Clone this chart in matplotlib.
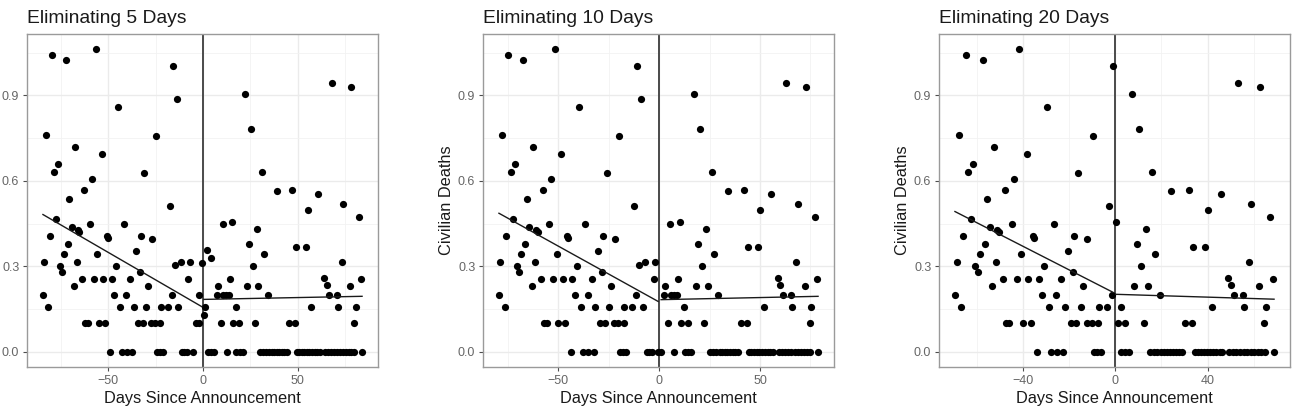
import numpy as np
import matplotlib
matplotlib.use("Agg")
import matplotlib.pyplot as plt
from matplotlib.ticker import FixedLocator

plt.rcParams['font.family'] = ['Liberation Sans', 'DejaVu Sans']

days = [
    -84.4, -83.7, -82.7, -81.6, -80.7, -79.7, -78.6, -77.6, -76.5, -75.6,
    -74.4, -73.5, -72.4, -71.4, -70.5, -69.3, -68.2, -67.3, -66.6, -66.0,
    -65.2, -63.8, -62.7, -62.2, -60.8, -59.8, -58.7, -57.6, -56.7, -55.7,
    -54.9, -53.4, -52.6, -51.6, -50.8, -50.0, -48.8, -48.1, -46.9, -45.9,
    -44.7, -43.8, -42.8, -41.7, -40.5, -40.2, -38.4, -37.5, -36.6, -35.4,
    -34.2, -33.4, -32.8, -31.9, -31.0, -30.0, -28.8, -27.3, -27.0, -25.2,
    -24.7, -24.3, -22.6, -22.2, -22.8, -21.2, -18.6, -17.6, -16.4, -16.1,
    -14.9, -14.0, -13.0, -11.8, -11.2, -9.9, -8.6, -7.7, -6.8, -5.5,
    -3.6, -2.4, -1.9, -0.7,
    0.4, 1.1, 2.2, 2.5, 4.0, 4.2, 6.0, 7.2, 8.1, 9.3,
    10.4, 10.7, 12.3, 12.5, 13.9, 14.2, 15.3, 16.0, 17.4, 17.6,
    19.1, 19.3, 21.0, 22.1, 23.2, 24.4, 25.1, 26.1, 27.4, 28.4,
    29.1, 30.0, 31.1, 31.6, 32.1, 33.2, 34.4, 35.0, 36.3, 37.6,
    38.8, 39.1, 40.1, 41.4, 42.7, 44.0, 45.4, 47.0, 48.4, 48.9,
    49.5, 50.8, 52.1, 53.4, 54.1, 54.7, 55.1, 56.0, 56.8, 57.4,
    58.8, 60.2, 60.7, 61.4, 63.9, 64.5, 65.1, 66.0, 66.5, 67.5,
    68.1, 69.0, 70.4, 70.6, 70.9, 72.2, 73.0, 73.8, 73.7, 75.2,
    76.7, 77.4, 77.9, 78.2, 79.6, 79.8, 80.5, 82.1, 83.2, 83.8,
]
deaths = [
    0.200, 0.315, 0.760, 0.158, 0.405, 1.040, 0.630, 0.467, 0.660, 0.300,
    0.280, 0.343, 1.025, 0.378, 0.536, 0.437, 0.232, 0.717, 0.315, 0.428,
    0.421, 0.257, 0.569, 0.102, 0.102, 0.449, 0.608, 0.257, 1.062, 0.344,
    0.102, 0.693, 0.257, 0.102, 0.407, 0.398, 0.000, 0.257, 0.200, 0.300,
    0.858, 0.158, 0.000, 0.449, 0.200, 0.000, 0.257, 0.000, 0.158, 0.355,
    0.102, 0.280, 0.405, 0.102, 0.628, 0.158, 0.232, 0.102, 0.396, 0.102,
    0.757, 0.000, 0.102, 0.158, 0.000, 0.000, 0.158, 0.511, 0.200, 1.004,
    0.305, 0.888, 0.158, 0.317, 0.000, 0.000, 0.000, 0.257, 0.317, 0.000,
    0.102, 0.102, 0.200, 0.312,
    0.130, 0.158, 0.357, 0.000, 0.331, 0.000, 0.000, 0.201, 0.232, 0.102,
    0.449, 0.201, 0.201, 0.000, 0.201, 0.257, 0.455, 0.102, 0.158, 0.000,
    0.102, 0.000, 0.000, 0.905, 0.232, 0.379, 0.782, 0.300, 0.102, 0.430,
    0.232, 0.000, 0.630, 0.000, 0.344, 0.000, 0.201, 0.000, 0.000, 0.000,
    0.000, 0.566, 0.000, 0.000, 0.000, 0.000, 0.102, 0.569, 0.102, 0.368,
    0.000, 0.000, 0.000, 0.000, 0.368, 0.000, 0.497, 0.000, 0.158, 0.000,
    0.000, 0.000, 0.554, 0.000, 0.260, 0.000, 0.233, 0.000, 0.201, 0.000,
    0.944, 0.000, 0.201, 0.000, 0.158, 0.000, 0.316, 0.518, 0.000, 0.000,
    0.000, 0.232, 0.930, 0.000, 0.102, 0.000, 0.158, 0.472, 0.257, 0.000,
]

titles = ["Eliminating 5 Days", "Eliminating 10 Days", "Eliminating 20 Days"]
# extra days dropped on each side relative to the 5-day panel (gap closed up)
extra_drop = [0, 5, 15]
x_major = [[-50, 0, 50], [-50, 0, 50], [-40, 0, 40]]
x_minor = [[-75, -25, 25, 75], [-75, -25, 25, 75], [-60, -20, 20, 60]]
y_major = [0.0, 0.3, 0.6, 0.9]
y_minor = [0.15, 0.45, 0.75, 1.05]

# fitted lines (value at 0, slope)
left_icpt = [0.156, 0.175, 0.205]
left_slope = [-0.00386, -0.00392, -0.00414]
right_icpt = [0.184, 0.183, 0.202]
right_slope = [0.00013, 0.00015, -0.00025]

days = np.array(days)
deaths = np.array(deaths)

fig = plt.figure(figsize=(12.96, 4.11), dpi=100)
lefts = [27, 483, 939]
for i in range(3):
    ax = fig.add_axes([lefts[i] / 1296, 44 / 411, 351 / 1296, 333 / 411])
    k = extra_drop[i]
    lm = days < -k
    rm = days > k
    xl = days[lm] + k
    xr = days[rm] - k
    x = np.concatenate([xl, xr])
    y = np.concatenate([deaths[lm], deaths[rm]])

    ax.scatter(x, y, s=27, color='black', linewidths=0, zorder=3)
    ax.axvline(0, color='#4a4a4a', lw=1.4, zorder=2)

    xs = np.array([xl.min(), xl.max()])
    ax.plot(xs, left_icpt[i] + left_slope[i] * xs, color='#1a1a1a', lw=1.0, zorder=4)
    xs = np.array([xr.min(), xr.max()])
    ax.plot(xs, right_icpt[i] + right_slope[i] * xs, color='#1a1a1a', lw=1.0, zorder=4)

    span = x.max() - x.min()
    ax.set_xlim(x.min() - 0.05 * span, x.max() + 0.05 * span)
    ax.set_ylim(-0.05 * 1.062, 1.062 * 1.05)

    ax.xaxis.set_major_locator(FixedLocator(x_major[i]))
    ax.xaxis.set_minor_locator(FixedLocator(x_minor[i]))
    ax.yaxis.set_major_locator(FixedLocator(y_major))
    ax.yaxis.set_minor_locator(FixedLocator(y_minor))
    ax.set_xticklabels([str(v).replace('-', '\u2212') for v in x_major[i]])
    ax.set_yticklabels(['0.0', '0.3', '0.6', '0.9'])
    ax.grid(which='major', color='#ebebeb', lw=1.0, zorder=0)
    ax.grid(which='minor', color='#f2f2f2', lw=0.6, zorder=0)
    ax.set_axisbelow(True)
    ax.tick_params(which='major', length=3, width=0.8, color='#4d4d4d',
                   labelsize=9, labelcolor='#666666', pad=2.5)
    ax.tick_params(which='minor', length=0)
    for sp in ax.spines.values():
        sp.set_color('#9a9a9a')
        sp.set_linewidth(1.0)

    ax.set_title(titles[i], loc='left', fontsize=13.9, color='#1a1a1a', pad=8)
    ax.set_xlabel('Days Since Announcement', fontsize=11.8, color='#1a1a1a', labelpad=3)
    if i > 0:
        ax.set_ylabel('Civilian Deaths', fontsize=11.8, color='#1a1a1a', labelpad=3)

fig.savefig('out.png', dpi=100)
